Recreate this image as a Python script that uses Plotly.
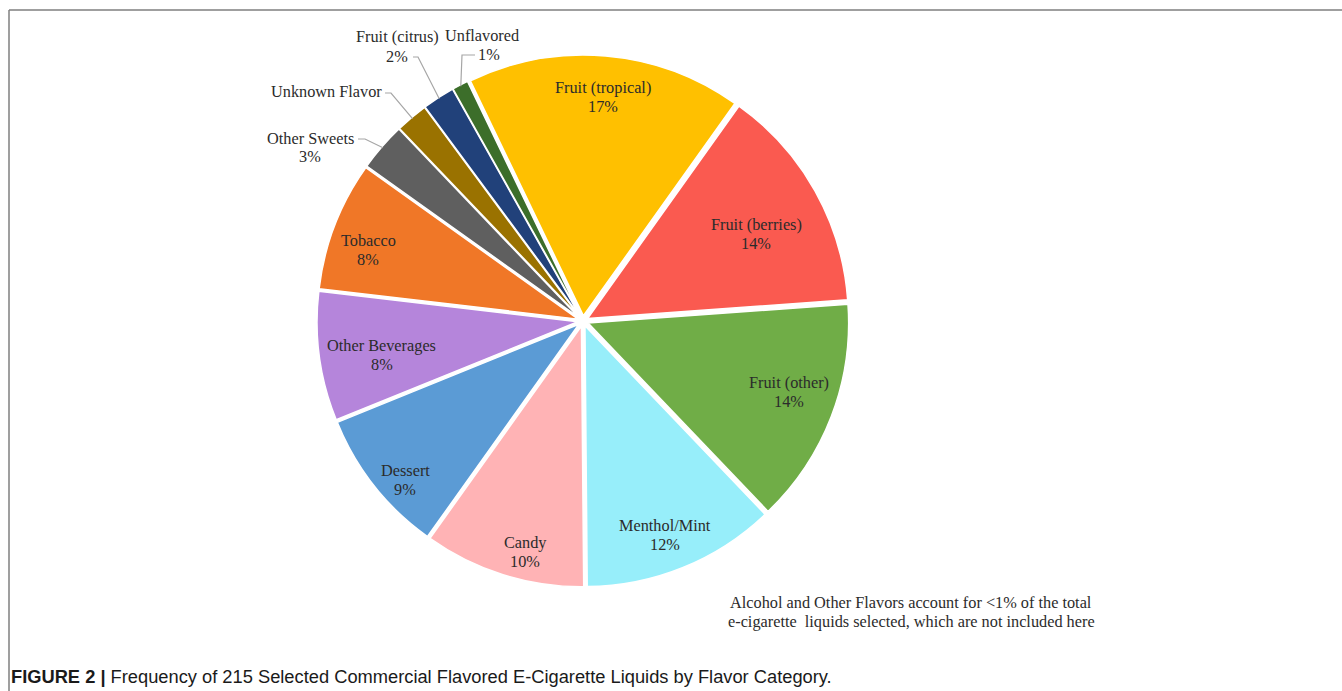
import math
import plotly.graph_objects as go

# ---- data ----
categories = ["Fruit (tropical)", "Fruit (berries)", "Fruit (other)", "Menthol/Mint",
              "Candy", "Dessert", "Other Beverages", "Tobacco", "Other Sweets",
              "Unknown Flavor", "Fruit (citrus)", "Unflavored"]
percents = [17, 14, 14, 12, 10, 9, 8, 8, 3, 2, 2, 1]
pct_labels = ["17%", "14%", "14%", "12%", "10%", "9%", "8%", "8%", "3%", "", "2%", "1%"]
colors = ["#FFC000", "#FA5A50", "#70AD47", "#97EEFA", "#FFB3B5", "#5B9BD5",
          "#B585DB", "#F07727", "#5F5F5F", "#9A7200", "#21417A", "#3C6E2A"]

W, H = 1342, 691
CX, CY = 583, 321          # pie centre in px
RD = 266                   # domain half size in px
PULL = 0.02
ROT = -25.7
LH = 19                    # line spacing of two-line labels (px)

def px(x, y):
    return x / W, 1 - y / H

fig = go.Figure(go.Pie(
    labels=categories, values=percents, sort=False, direction="clockwise",
    rotation=ROT, pull=[PULL] * len(percents), textinfo="none", hoverinfo="label+percent",
    marker=dict(colors=colors, line=dict(color="white", width=1.5)),
    domain=dict(x=[(CX - RD) / W, (CX + RD) / W], y=[1 - (CY + RD) / H, 1 - (CY - RD) / H]),
    showlegend=False,
))

total = sum(percents)
cum = 0
mids = []
for v in percents:
    mids.append(ROT + 360 * (cum + v / 2) / total)
    cum += v

font = dict(family="Liberation Serif, DejaVu Serif, serif", size=16.3, color="#2b2b2b")
annotations = []

def add_text(x, y, text, **kw):
    xp, yp = px(x, y)
    d = dict(x=xp, y=yp, xref="paper", yref="paper", showarrow=False, text=text,
             font=font, xanchor="center", yanchor="middle")
    d.update(kw)
    annotations.append(d)

def add_two(x, y, top, bottom, dx2=0):
    add_text(x, y - LH / 2, top)
    if bottom:
        add_text(x + dx2, y + LH / 2, bottom)

# inside labels: radial fraction of outer radius and angular nudge (deg) from slice middle
radial = [0.845, 0.729, 0.819, 0.863, 0.895, 0.896, 0.767, 0.851]
nudge = [0.2, 2.5, -2.1, 1.2, -3.4, -3.4, -1.9, -2.8]
for i, f in enumerate(radial):
    a = math.radians(mids[i] + nudge[i])
    x = CX + RD * f * math.sin(a)
    y = CY - RD * f * math.cos(a)
    add_two(x, y, categories[i], pct_labels[i])

# outside labels with elbow leader lines
outside = {
    8: dict(text_pos=(310, 147.5), dx2=0, line=[(358, 139), (365, 139)]),
    9: dict(text_pos=(326, 92), dx2=0, line=[(385, 93), (391, 93)]),
    10: dict(text_pos=(397, 46.5), dx2=0, line=[(413, 57), (418, 57)]),
    11: dict(text_pos=(482, 45), dx2=7, line=[(475, 55), (462, 55)]),
}
shapes = []
for i, spec in outside.items():
    tx, ty = spec["text_pos"]
    if pct_labels[i]:
        add_two(tx, ty, categories[i], pct_labels[i], spec["dx2"])
    else:
        add_text(tx, ty, categories[i])
    a = math.radians(mids[i])
    ex = CX + RD * 0.995 * math.sin(a)
    ey = CY - RD * 0.995 * math.cos(a)
    pts = spec["line"] + [(ex, ey)]
    path = "M " + " L ".join(f"{px(x, y)[0]:.5f},{px(x, y)[1]:.5f}" for x, y in pts)
    shapes.append(dict(type="path", path=path, xref="paper", yref="paper",
                       line=dict(color="#a6a6a6", width=1.2)))

# footnote
add_text(911, 602, "Alcohol and Other Flavors account for &lt;1% of the total")
add_text(911, 621, "e-cigarette  liquids selected, which are not included here")

# caption
xp, yp = px(9, 676)
annotations.append(dict(x=xp, y=yp, xref="paper", yref="paper", showarrow=False,
                        text="<b>FIGURE 2 |</b> Frequency of 215 Selected Commercial Flavored E-Cigarette Liquids by Flavor Category.",
                        font=dict(family="Liberation Sans, Arial, sans-serif", size=18.3, color="#1a1a1a"),
                        xanchor="left", yanchor="middle", align="left"))

# frame
x0, y0 = px(9, 10)
shapes.append(dict(type="line", xref="paper", yref="paper", x0=x0, y0=y0, x1=1, y1=y0,
                   line=dict(color="#7f7f7f", width=1.5)))
shapes.append(dict(type="line", xref="paper", yref="paper", x0=x0, y0=y0, x1=x0, y1=0,
                   line=dict(color="#7f7f7f", width=1.5)))

fig.update_layout(width=W, height=H, margin=dict(l=0, r=0, t=0, b=0),
                  paper_bgcolor="white", plot_bgcolor="white",
                  annotations=annotations, shapes=shapes)
fig.write_html("out.html", config={"displayModeBar": False},
               post_script="document.body.style.margin='0';document.body.style.overflow='hidden';")
